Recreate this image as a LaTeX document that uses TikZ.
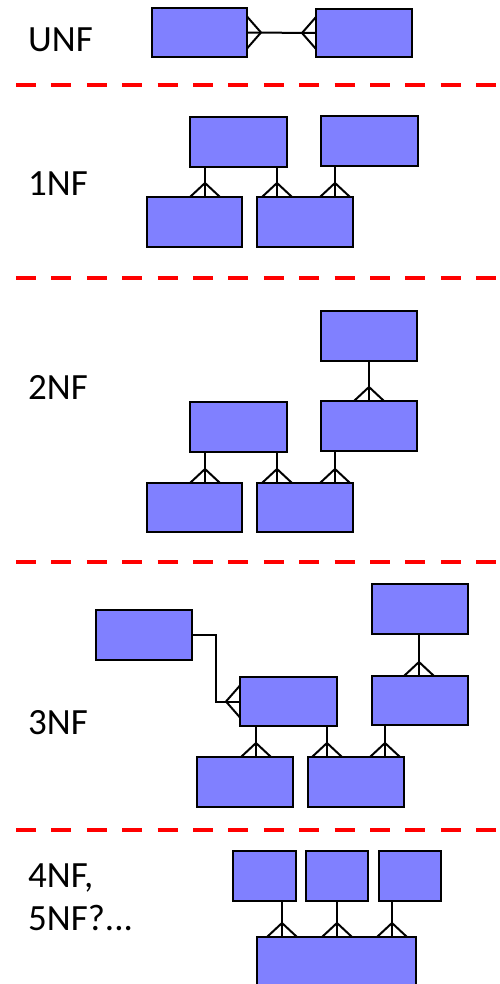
\documentclass[tikz,border=0pt]{standalone}
\usepackage{fontspec}
\setmainfont{Carlito}
\usetikzlibrary{calc}
\definecolor{entfill}{RGB}{128,128,255}
\tikzset{
  entbox/.style={draw=black, fill=entfill, line width=2pt, inner sep=0pt, outer sep=0pt},
  conn/.style={draw=black, line width=2pt},
  sep/.style={draw=red, line width=4.5pt, dash pattern=on 20pt off 15.4pt},
  lab/.style={anchor=base west, inner sep=0pt, font=\fontsize{37}{43}\selectfont, align=left}
}
\newcommand\entity[5]{\node[entbox, anchor=north west, minimum width=#4pt, minimum height=#5pt] (#1) at (#2,#3) {};}
\newcommand\relv[3]{%
  \path (#3,0) coordinate (rx);
  \draw[conn] (rx |- #1.south) -- (rx |- #2.north);
  \draw[conn] (rx |- #2.north) ++(-15,0) -- ++(15,-14) -- ++(15,14);}
\begin{document}
\begin{tikzpicture}[x=1pt, y=-1pt]
\useasboundingbox (0,0) rectangle (500,984);
% separators
\coordinate (s1a) at (16,85);  \coordinate (s1b) at (497,85);
\coordinate (s2a) at (16,278); \coordinate (s2b) at (497,278);
\coordinate (s3a) at (16,562); \coordinate (s3b) at (497,562);
\coordinate (s4a) at (16,830); \coordinate (s4b) at (497,830);
\draw[sep] (s1a) -- (s1b);
\draw[sep] (s2a) -- (s2b);
\draw[sep] (s3a) -- (s3b);
\draw[sep] (s4a) -- (s4b);
% labels
\node[lab] (lunf) at (28,52) {UNF};
\node[lab] (l1nf) at (28,196) {1NF};
\node[lab] (l2nf) at (28,399) {2NF};
\node[lab] (l3nf) at (28,734) {3NF};
\node[lab] (l4nf) at (28,930) {4NF,\\5NF?...};
% UNF
\entity{u1}{152}{8}{95}{49}
\entity{u2}{316}{9}{96}{48}
\draw[conn] (u1.east) -- (u2.west);
\draw[conn] (u1.east) ++(0,-16) -- ++(14,16) -- ++(-14,16);
\draw[conn] (u2.west) ++(0,-16) -- ++(-14,16) -- ++(14,16);
% 1NF
\entity{a1}{190}{117}{97}{50}
\entity{a2}{321}{116}{97}{50}
\entity{a3}{147}{197}{95}{50}
\entity{a4}{257}{197}{96}{50}
\relv{a1}{a3}{205}
\relv{a1}{a4}{277}
\relv{a2}{a4}{335}
% 2NF
\entity{b5}{321}{311}{96}{50}
\entity{b1}{190}{402}{97}{50}
\entity{b2}{321}{401}{96}{50}
\entity{b3}{147}{483}{95}{49}
\entity{b4}{257}{483}{96}{49}
\relv{b5}{b2}{369}
\relv{b1}{b3}{205}
\relv{b1}{b4}{277}
\relv{b2}{b4}{335}
% 3NF
\entity{g}{96}{610}{96}{50}
\entity{h}{240}{677}{97}{49}
\entity{i}{372}{584}{96}{50}
\entity{j}{372}{676}{96}{49}
\entity{k}{197}{757}{96}{50}
\entity{l}{308}{757}{96}{50}
\draw[conn] (g.east) -- ++(24,0) |- (h.west);
\draw[conn] (h.west) ++(0,-16) -- ++(-14,16) -- ++(14,16);
\relv{i}{j}{419}
\relv{h}{k}{256}
\relv{h}{l}{327}
\relv{j}{l}{385}
% 4NF
\entity{p1}{233}{851}{63}{50}
\entity{p2}{306}{851}{62}{50}
\entity{p3}{379}{851}{62}{50}
\entity{q}{257}{937}{159}{50}
\relv{p1}{q}{282}
\relv{p2}{q}{337}
\relv{p3}{q}{392}
\end{tikzpicture}
\end{document}
